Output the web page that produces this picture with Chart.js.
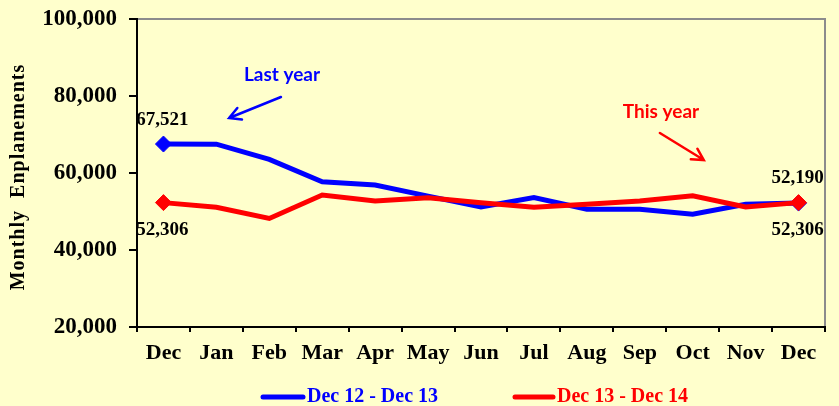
<!DOCTYPE html>
<html>
<head>
<meta charset="utf-8">
<title>Monthly Enplanements</title>
<script src="https://cdn.jsdelivr.net/npm/chart.js@4.4.1/dist/chart.umd.min.js"></script>
<style>
  html, body { margin: 0; padding: 0; background: #ffffcc; }
  canvas { display: block; }
</style>
</head>
<body>
<canvas id="chart" width="839" height="406"></canvas>
<script>
/* ===== データ ===== */
const MONTHS = ['Dec', 'Jan', 'Feb', 'Mar', 'Apr', 'May', 'Jun', 'Jul', 'Aug', 'Sep', 'Oct', 'Nov', 'Dec'];
const LAST_YEAR = [67521, 67500, 63550, 57700, 56900, 54000, 51200, 53600, 50600, 50600, 49300, 51900, 52190];
const THIS_YEAR = [52306, 51100, 48200, 54300, 52700, 53600, 52300, 51100, 51900, 52700, 54100, 51200, 52306];
const SERIES_NAMES = ['Dec 12 - Dec 13', 'Dec 13 - Dec 14'];
const Y_TICKS = [20000, 40000, 60000, 80000, 100000];
const Y_TITLE = 'Monthly  Enplanements';

// 端点の数値ラベル（series, index, text）
const POINT_LABELS = [
  { series: 0, index: 0, text: '67,521', dy: -24 },
  { series: 1, index: 0, text: '52,306', dy: 27 },
  { series: 0, index: 12, text: '52,190', dy: -25 },
  { series: 1, index: 12, text: '52,306', dy: 27 },
];

// 注記（データ座標：x = 月のインデックス, y = 値）
const NOTES = [
  { text: 'Last year', color: '#0000ff', at: [2.24, 85450], from: [2.22, 79740], to: [1.24, 74280] },
  { text: 'This year', color: '#ff0000', at: [9.40, 75840], from: [9.38, 70390], to: [10.21, 63370] },
];

const BLUE = '#0000ff';
const RED = '#ff0000';
const SERIF = '"Liberation Serif", "Times New Roman", serif';
const serif = size => `bold ${size}px ${SERIF}`;

function endMarkers(n, r) {
  return Array.from({ length: n }, (_, i) => (i === 0 || i === n - 1 ? r : 0));
}

function arrow(ctx, x1, y1, x2, y2, color) {
  const ang = Math.atan2(y2 - y1, x2 - x1);
  const head = 13;
  ctx.save();
  ctx.strokeStyle = color;
  ctx.lineWidth = 2.5;
  ctx.lineCap = 'round';
  ctx.beginPath();
  ctx.moveTo(x1, y1);
  ctx.lineTo(x2, y2);
  ctx.moveTo(x2 - head * Math.cos(ang - 0.5), y2 - head * Math.sin(ang - 0.5));
  ctx.lineTo(x2, y2);
  ctx.lineTo(x2 - head * Math.cos(ang + 0.5), y2 - head * Math.sin(ang + 0.5));
  ctx.stroke();
  ctx.restore();
}

/* ===== 装飾プラグイン ===== */
const decor = {
  id: 'decor',
  beforeDraw(chart) {
    const { ctx, chartArea: a } = chart;
    ctx.save();
    ctx.strokeStyle = '#8c8c8c';
    ctx.lineWidth = 2;
    ctx.strokeRect(a.left, a.top, a.right - a.left, a.bottom - a.top);
    ctx.restore();
  },
  afterDraw(chart) {
    const { ctx, chartArea: a, scales: { x, y } } = chart;
    ctx.save();

    // 縦軸タイトル
    ctx.translate(19, (a.top + a.bottom) / 2 + 4);
    ctx.rotate(-Math.PI / 2);
    ctx.font = serif(20);
    ctx.letterSpacing = '1px';
    ctx.fillStyle = '#000';
    ctx.textAlign = 'center';
    ctx.textBaseline = 'middle';
    ctx.fillText(Y_TITLE, 0, 0);
    ctx.setTransform(1, 0, 0, 1, 0, 0);
    ctx.letterSpacing = '0px';

    // 端点ラベル
    ctx.font = serif(19);
    POINT_LABELS.forEach(l => {
      const p = chart.getDatasetMeta(l.series).data[l.index];
      ctx.fillText(l.text, p.x - 1, p.y + l.dy);
    });

    // 注記
    ctx.font = 'bold 19px "Lato", "Liberation Sans", sans-serif';
    NOTES.forEach(n => {
      ctx.fillStyle = n.color;
      ctx.fillText(n.text, x.getPixelForValue(n.at[0]), y.getPixelForValue(n.at[1]));
      arrow(ctx,
        x.getPixelForValue(n.from[0]), y.getPixelForValue(n.from[1]),
        x.getPixelForValue(n.to[0]), y.getPixelForValue(n.to[1]), n.color);
    });

    // 凡例
    const legendY = 397;
    const items = [
      { name: SERIES_NAMES[0], color: BLUE, x0: 263, x1: 303 },
      { name: SERIES_NAMES[1], color: RED, x0: 515, x1: 553 },
    ];
    ctx.font = serif(20);
    ctx.textAlign = 'left';
    items.forEach(it => {
      ctx.strokeStyle = it.color;
      ctx.lineWidth = 5;
      ctx.lineCap = 'round';
      ctx.beginPath();
      ctx.moveTo(it.x0, legendY);
      ctx.lineTo(it.x1, legendY);
      ctx.stroke();
      ctx.fillStyle = it.color;
      ctx.fillText(it.name, it.x1 + 4, legendY);
    });
    ctx.restore();
  },
};

/* ===== グラフ ===== */
new Chart(document.getElementById('chart'), {
  type: 'line',
  data: {
    labels: MONTHS,
    datasets: [
      {
        label: SERIES_NAMES[0], data: LAST_YEAR, order: 1,
        borderColor: BLUE, backgroundColor: BLUE, borderWidth: 5,
        pointStyle: 'rectRot', pointRadius: endMarkers(MONTHS.length, 8), pointBorderWidth: 1,
        tension: 0,
      },
      {
        label: SERIES_NAMES[1], data: THIS_YEAR, order: 0,
        borderColor: RED, backgroundColor: RED, borderWidth: 5,
        pointStyle: 'rectRot', pointRadius: endMarkers(MONTHS.length, 8), pointBorderWidth: 1,
        tension: 0,
      },
    ],
  },
  options: {
    responsive: false,
    animation: false,
    events: [],
    layout: { padding: { left: 0, top: 19, right: 14, bottom: 20 } },
    plugins: { legend: { display: false }, tooltip: { enabled: false } },
    scales: {
      x: {
        offset: true,
        grid: { offset: true, drawOnChartArea: false, drawTicks: true, tickLength: 5, color: '#000', lineWidth: 2 },
        border: { display: true, color: '#000', width: 2 },
        ticks: { font: { family: SERIF, size: 22, weight: 'bold' }, color: '#000', padding: 8, maxRotation: 0, autoSkip: false },
        afterFit(s) { s.height = 59; s.paddingLeft = 0; s.paddingRight = 0; },
      },
      y: {
        min: 20000, max: 100000,
        afterBuildTicks(s) { s.ticks = Y_TICKS.map(v => ({ value: v })); },
        grid: { drawOnChartArea: false, drawTicks: true, tickLength: 8, color: '#000', lineWidth: 2 },
        border: { display: true, color: '#000', width: 2 },
        ticks: {
          font: { family: SERIF, size: 23, weight: 'bold' }, color: '#000', padding: 12,
          callback: v => Number(v).toLocaleString('en-US'),
        },
        afterFit(s) { s.width = 137; s.paddingTop = 0; s.paddingBottom = 0; },
      },
    },
  },
  plugins: [decor],
});
</script>
</body>
</html>
